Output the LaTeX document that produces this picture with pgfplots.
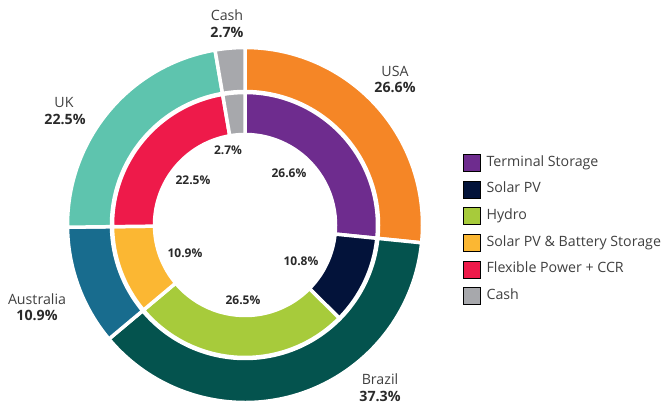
\documentclass[border=0pt]{standalone}
\usepackage{pgfplots}
\pgfplotsset{compat=1.18}
\usepackage{pgfplotstable}
\usepackage{fontspec}
\setmainfont{Open Sans}

\definecolor{cUSA}{HTML}{F58626}
\definecolor{cBrazil}{HTML}{04534E}
\definecolor{cAus}{HTML}{186C8E}
\definecolor{cUK}{HTML}{5EC4AE}
\definecolor{cCash}{HTML}{A7A8AC}
\definecolor{cTS}{HTML}{6E2C8E}
\definecolor{cPV}{HTML}{03133A}
\definecolor{cHydro}{HTML}{A7CB3B}
\definecolor{cBat}{HTML}{FBB733}
\definecolor{cFlex}{HTML}{EE1A4A}
\definecolor{labgray}{HTML}{404040}
\definecolor{valgray}{HTML}{2A2A2A}

% shares by country (outer ring) and by technology (inner ring), clockwise from 12 o'clock
\pgfplotstableread{
share color
26.6 cUSA
37.3 cBrazil
10.9 cAus
22.5 cUK
2.7 cCash
}\outerring
\pgfplotstableread{
share color
26.6 cTS
10.8 cPV
26.5 cHydro
10.9 cBat
22.5 cFlex
2.7 cCash
}\innerring

\def\cx{245}
\def\cy{178}

% #1 table, #2 inner radius, #3 outer radius (axis units = bp)
\newcommand\ring[3]{%
  \pgfplotstablegetrowsof{#1}%
  \pgfmathtruncatemacro\nrows{\pgfplotsretval-1}%
  \def\angstart{90}%
  \pgfplotsforeachungrouped \i in {0,...,\nrows}{%
    \pgfplotstablegetelem{\i}{share}\of{#1}\let\sh\pgfplotsretval
    \pgfplotstablegetelem{\i}{color}\of{#1}\let\col\pgfplotsretval
    \pgfmathsetmacro\angend{\angstart-3.6*\sh}%
    \pgfmathsetmacro\xa{\cx+#3*cos(\angstart)}%
    \pgfmathsetmacro\ya{\cy+#3*sin(\angstart)}%
    \pgfmathsetmacro\xb{\cx+#2*cos(\angend)}%
    \pgfmathsetmacro\yb{\cy+#2*sin(\angend)}%
    \edef\cmd{\noexpand\filldraw[fill=\col, draw=white, line width=3.5bp]
      (axis cs:\xa,\ya) arc[start angle=\angstart, end angle=\angend, radius=#3bp]
      -- (axis cs:\xb,\yb) arc[start angle=\angend, end angle=\angstart, radius=#2bp] -- cycle;}%
    \cmd
    \let\angstart\angend
  }%
}

\begin{document}
\begin{tikzpicture}
\begin{axis}[
    x=1bp, y=1bp,
    xmin=0, xmax=663, ymin=0, ymax=403,
    hide axis, clip=false,
    legend style={at={(axis cs:463,249)}, anchor=north west, draw=none,
        fill=none, inner sep=0pt, row sep=9.2bp, column sep=6bp,
        font=\fontsize{14.2bp}{16bp}\selectfont, text=labgray,
        nodes={inner sep=0pt, text height=10bp, text depth=3bp}},
    legend cell align=left,
    legend image code/.code={\fill[#1] (0bp,-8.5bp) rectangle (17bp,8.5bp);},
]
\path (axis cs:0,0) rectangle (axis cs:663,403);
\ring{\outerring}{133.5}{177.5}
\ring{\innerring}{90.5}{132.5}

\addlegendimage{fill=cTS}\addlegendentry{Terminal Storage}
\addlegendimage{fill=cPV}\addlegendentry{Solar PV}
\addlegendimage{fill=cHydro}\addlegendentry{Hydro}
\addlegendimage{fill=cBat}\addlegendentry{Solar PV \& Battery Storage}
\addlegendimage{fill=cFlex}\addlegendentry{Flexible Power + CCR}
\addlegendimage{fill=cCash}\addlegendentry{Cash}

% outer labels
\begin{scope}[every node/.style={anchor=base, inner sep=0pt, font=\fontsize{14.2bp}{16bp}\selectfont}]
\node[text=labgray] at (axis cs:227,382) {Cash};
\node[text=valgray] at (axis cs:227,365) {\bfseries 2.7\%};
\node[text=labgray] at (axis cs:395,326) {USA};
\node[text=valgray] at (axis cs:395,310) {\bfseries 26.6\%};
\node[text=labgray] at (axis cs:64,295) {UK};
\node[text=valgray] at (axis cs:65,278) {\bfseries 22.5\%};
\node[text=labgray] at (axis cs:37,98) {Australia};
\node[text=valgray] at (axis cs:37,82) {\bfseries 10.9\%};
\node[text=labgray] at (axis cs:380,18) {Brazil};
\node[text=valgray] at (axis cs:380,1.5) {\bfseries 37.3\%};
\end{scope}
% inner labels
\begin{scope}[every node/.style={anchor=base, inner sep=0pt, text=valgray, font=\fontsize{12bp}{14bp}\selectfont\bfseries}]
\node at (axis cs:228,248.5) {2.7\%};
\node at (axis cs:289,225) {26.6\%};
\node at (axis cs:193,218) {22.5\%};
\node at (axis cs:185,145.5) {10.9\%};
\node at (axis cs:301,137.5) {10.8\%};
\node at (axis cs:243,98.5) {26.5\%};
\end{scope}
\end{axis}
\end{tikzpicture}
\end{document}
